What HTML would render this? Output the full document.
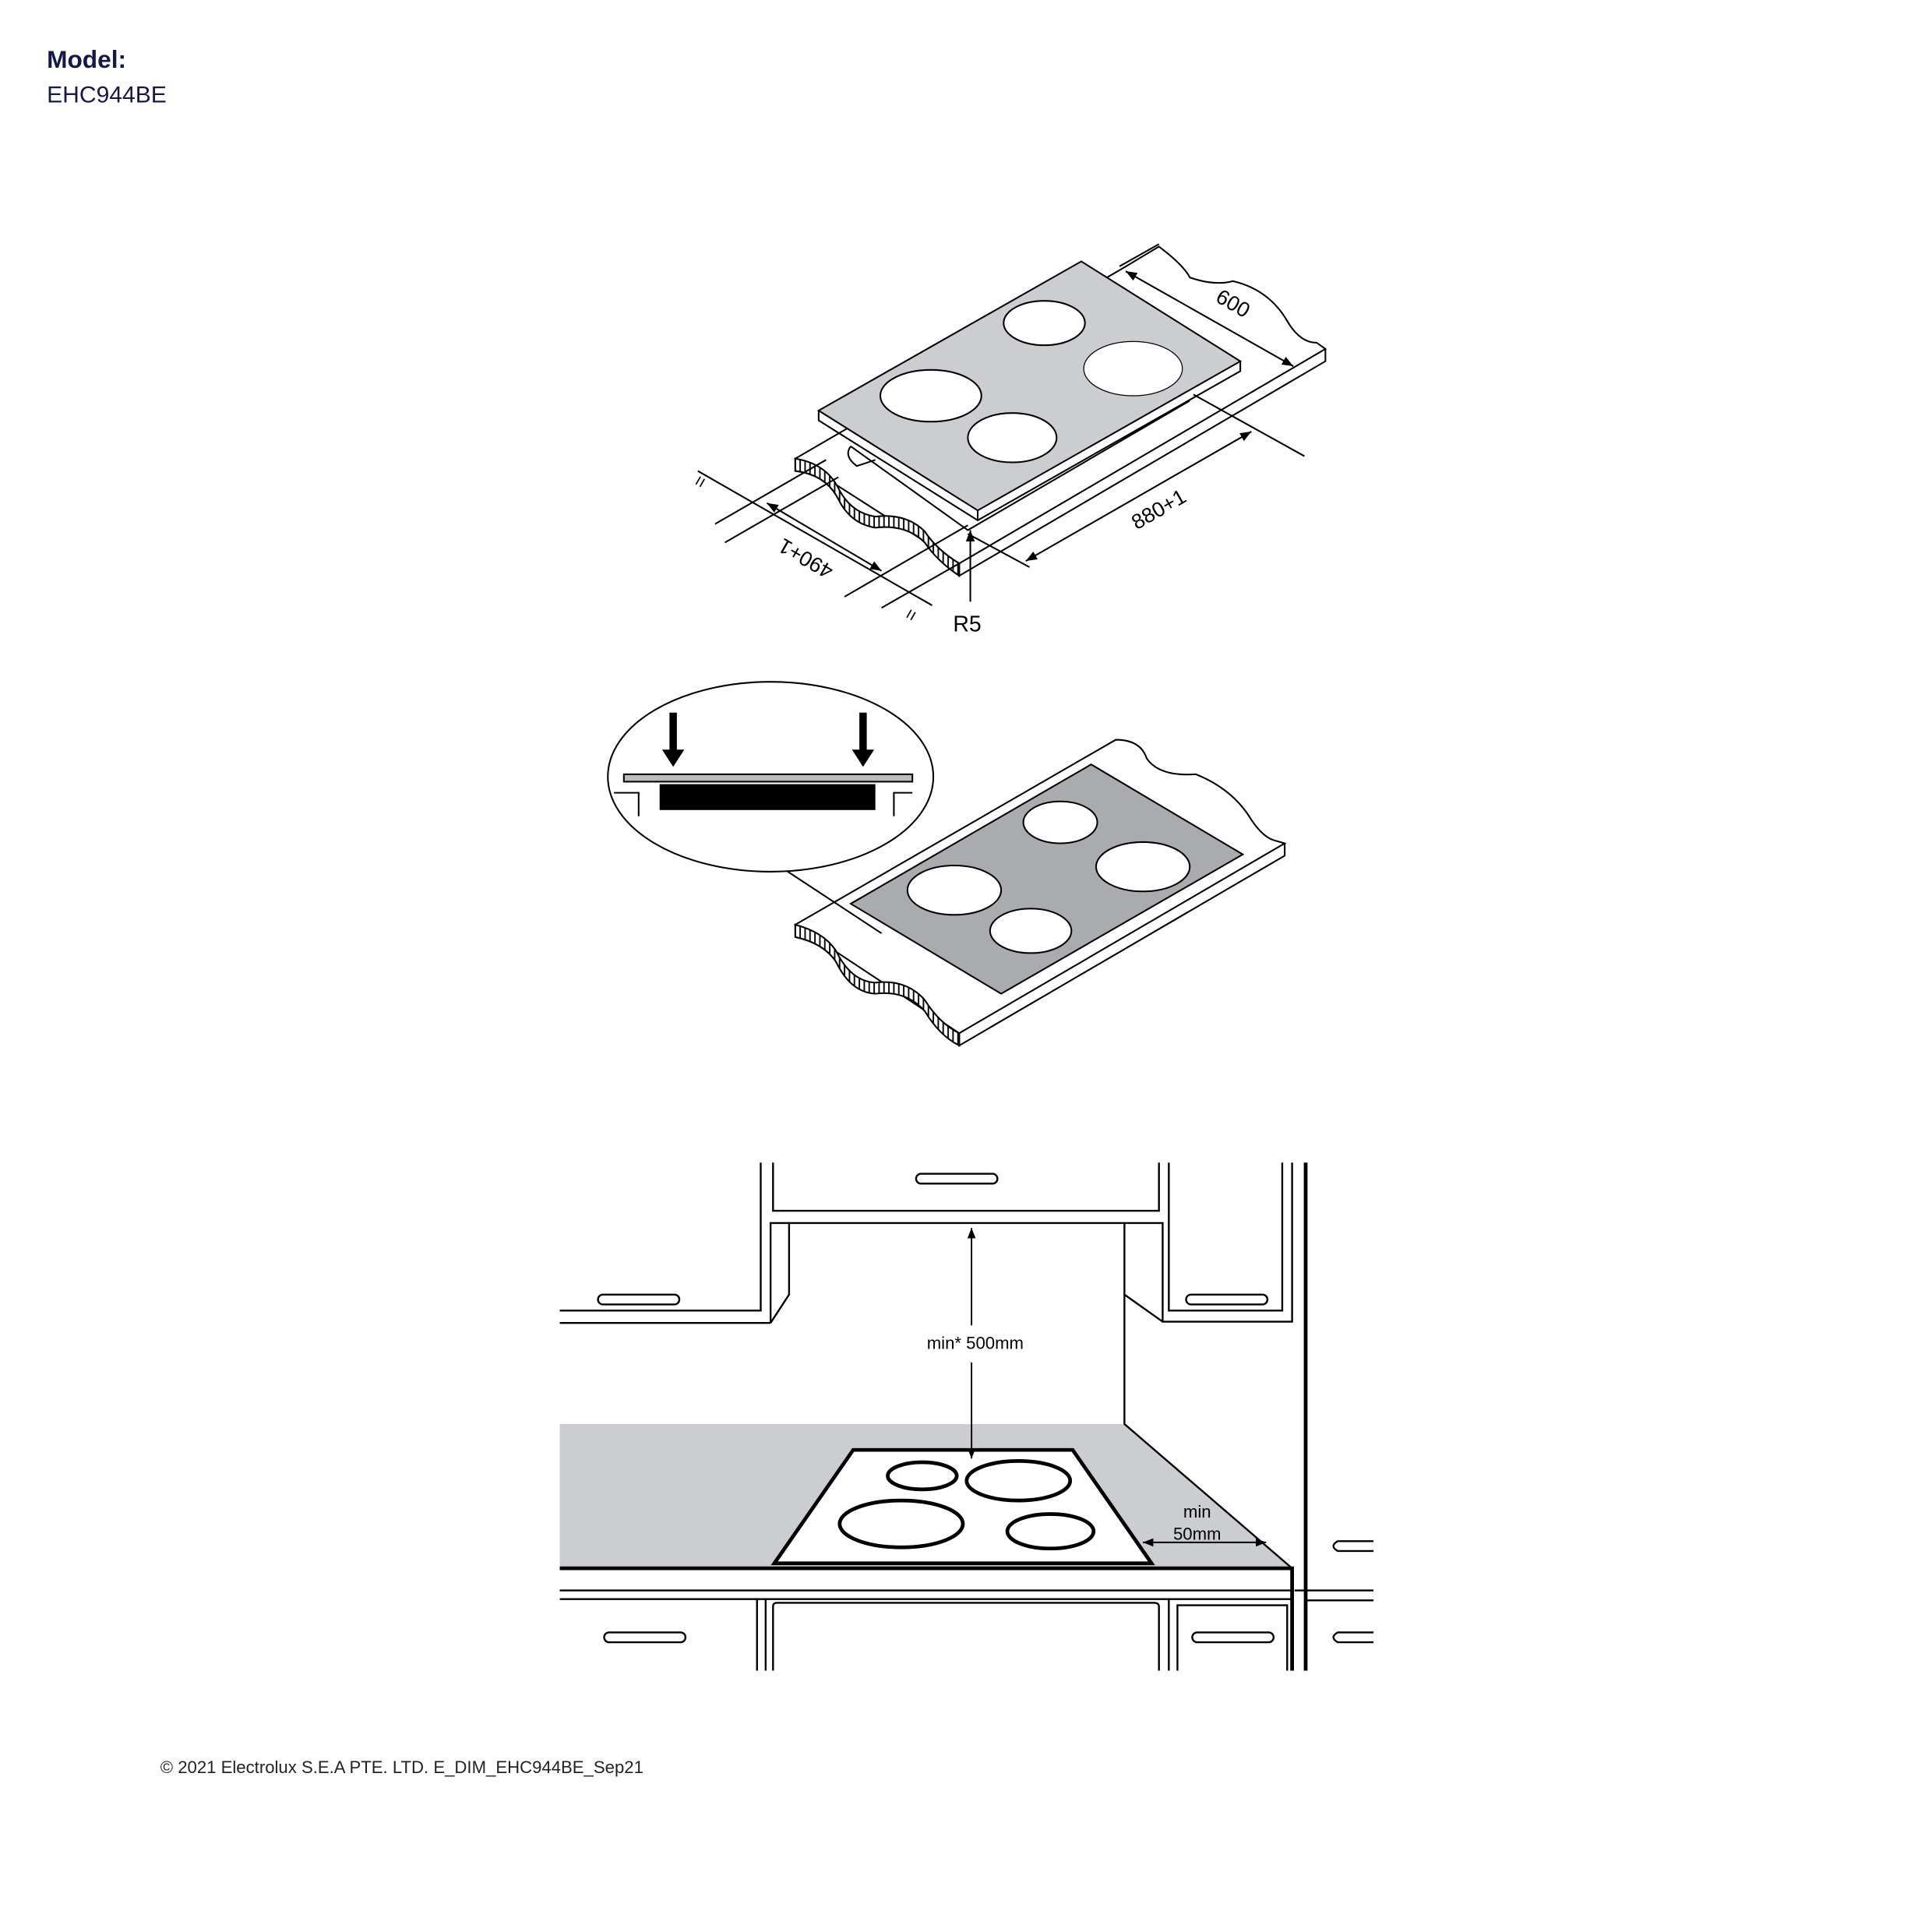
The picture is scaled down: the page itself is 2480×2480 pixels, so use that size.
<!DOCTYPE html>
<html><head><meta charset="utf-8"><style>html,body{margin:0;padding:0;background:#fff}svg{display:block}</style></head>
<body>
<svg width="2480" height="2480" viewBox="0 0 1567 1567" xmlns="http://www.w3.org/2000/svg" font-family="Liberation Sans, sans-serif">
<defs>
<marker id="a" viewBox="0 0 10 10" refX="10" refY="5" markerWidth="7" markerHeight="7" orient="auto-start-reverse"><path d="M0,1 L10,5 L0,9 z" fill="#000"/></marker>
<pattern id="h" width="4" height="4" patternUnits="userSpaceOnUse"><rect width="4" height="4" fill="#fff"/><line x1="1" y1="0" x2="1" y2="4" stroke="#000" stroke-width="1.2"/></pattern>
</defs>
<text x="38" y="55" font-size="20" font-weight="bold" fill="#141a46">Model:</text>
<text x="38" y="83" font-size="19" fill="#141a46">EHC944BE</text>

<g fill="none" stroke="#000" stroke-width="1.3">
<path d="M645,372 L910,218 L940,200 Q960,215 965,225 Q985,232 1000,228 Q1030,235 1045,262 Q1055,278 1068,278 L1075,283 L778,457 Z" fill="#fff"/>
<path d="M1075,283 L1075,293 L778,467 L778,457"/>
<path d="M645,372 L645,382 Q670,385 680,405 Q690,425 710,428 Q735,425 750,440 Q760,455 778,467 L778,457 Q760,446 750,431 Q735,416 710,419 Q690,416 680,396 Q670,376 645,372 Z" fill="url(#h)"/>
<path d="M690,362 L785,430 L965,325"/>
<path d="M690,362 Q684,370 695,378 L710,373"/>
<path d="M664,333 L877,212 L1006,293 L793,414 Z" fill="#cbcdd0"/>
<path d="M664,333 L664,341 L793,422 L1006,301 L1006,293 M793,414 L793,422"/>
<ellipse cx="847" cy="262" rx="33" ry="18" fill="#fff"/>
<ellipse cx="919" cy="299" rx="40" ry="22" fill="#fff" stroke-width="0.8"/>
<ellipse cx="755" cy="321" rx="41" ry="21" fill="#fff"/>
<ellipse cx="821" cy="355" rx="36" ry="20" fill="#fff"/>
<line x1="908" y1="216" x2="940" y2="198"/>
<line x1="913" y1="220" x2="1049" y2="297" marker-start="url(#a)" marker-end="url(#a)"/>
<line x1="968" y1="320" x2="1058" y2="370"/>
<line x1="832" y1="455" x2="1015" y2="350" marker-start="url(#a)" marker-end="url(#a)"/>
<line x1="785" y1="433" x2="835" y2="460"/>
<line x1="566" y1="382" x2="756" y2="491"/>
<line x1="580" y1="425" x2="670" y2="373"/>
<line x1="588" y1="440" x2="680" y2="387"/>
<line x1="685" y1="484" x2="785" y2="426"/>
<line x1="715" y1="493" x2="778" y2="457"/>
<line x1="622" y1="408" x2="715" y2="463" marker-start="url(#a)" marker-end="url(#a)"/>
<line x1="787" y1="488" x2="787" y2="430" marker-end="url(#a)"/>
</g>
<text x="0" y="0" font-size="17" transform="translate(985,244) rotate(30)">600</text>
<text x="0" y="0" font-size="17" transform="translate(922,430) rotate(-30)">880+1</text>
<text x="0" y="0" font-size="17" transform="translate(677,460) rotate(210)">490+1</text>
<text x="0" y="0" font-size="15" transform="translate(570,397) rotate(-60)">=</text>
<text x="0" y="0" font-size="15" transform="translate(741,505) rotate(-60)">=</text>
<text x="773" y="512" font-size="18">R5</text>

<g fill="none" stroke="#000" stroke-width="1.3">
<path d="M645,750 L905,600 Q925,600 930,615 Q940,630 970,628 Q1000,640 1015,665 Q1025,680 1035,682 L1042,684 L778,838 Z" fill="#fff"/>
<path d="M1042,684 L1042,694 L778,848 L778,838"/>
<path d="M645,750 L645,760 Q668,765 678,780 Q690,805 710,806 Q735,803 750,820 Q762,840 778,848 L778,838 Q762,830 750,811 Q735,794 710,797 Q690,796 678,771 Q668,756 645,750 Z" fill="url(#h)"/>
<path d="M690,733 L885,620 L1008,693 L812,806 Z" fill="#aaabae"/>
<ellipse cx="860" cy="667" rx="30" ry="17" fill="#fff"/>
<ellipse cx="927" cy="703" rx="38" ry="20" fill="#fff"/>
<ellipse cx="774" cy="722" rx="38" ry="20" fill="#fff"/>
<ellipse cx="836" cy="755" rx="33" ry="18" fill="#fff"/>
<line x1="636" y1="705" x2="715" y2="757"/>
<ellipse cx="625" cy="630" rx="132" ry="77" fill="#fff"/>
<rect x="506" y="628" width="234" height="6" fill="#bbb"/>
<path d="M498,643 L518,643 L518,662 M740,643 L725,643 L725,662"/>
</g>
<rect x="535" y="636" width="175" height="21" fill="#000"/>
<path d="M543,578 h6 v30 h6 l-9,14 l-9,-14 h6z M697,578 h6 v30 h6 l-9,14 l-9,-14 h6z" fill="#000"/>

<path d="M454,1155 L912,1155 L1048,1272 L454,1272 Z" fill="#cbcdd0"/>
<g fill="none" stroke="#000" stroke-width="1.5">
<path d="M617,943 V1063 H454 M627,943 V982 H940 V943 M625,1073 L640,1050 V992 H943 V1072 H1048 V943 M948,943 V1063 H1040 V943"/>
<path d="M625,1073 H454 M625,1073 V992 H640"/>
<path d="M912,992 V1155 L1048,1272 M912,1050 L943,1072"/>
<path d="M454,1290 H1048 M454,1297 H1048 M1050,1290 H1114 M1060,1298 H1114"/>
<path d="M614,1297 V1355 M621,1297 V1355 M948,1297 V1355 M940,1355 V1303 Q940,1300 936,1300 H630 Q627,1300 627,1303 V1355 M955,1355 V1302 H1044 V1355"/>
<rect x="743" y="952" width="66" height="8" rx="4"/>
<rect x="485" y="1050" width="66" height="8" rx="4"/>
<rect x="962" y="1050" width="66" height="8" rx="4"/>
<rect x="490" y="1324" width="66" height="8" rx="4"/>
<rect x="967" y="1324" width="66" height="8" rx="4"/>
<path d="M1114,1250 H1085 Q1078,1254 1085,1258 H1114 M1114,1324 H1085 Q1078,1328 1085,1332 H1114"/>
</g>
<path d="M454,1272 H1048 V1355" fill="none" stroke="#000" stroke-width="3"/>
<path d="M1059,943 V1355" fill="none" stroke="#000" stroke-width="3"/>
<path d="M692,1176 L870,1176 L934,1268 L628,1268 Z" fill="#fff" stroke="#000" stroke-width="3"/>
<g fill="none" stroke="#000" stroke-width="3">
<ellipse cx="748" cy="1197" rx="28" ry="11"/>
<ellipse cx="826" cy="1201" rx="42" ry="16"/>
<ellipse cx="731" cy="1236" rx="50" ry="19"/>
<ellipse cx="852" cy="1242" rx="35" ry="14"/>
</g>
<g stroke="#000" stroke-width="1.2" fill="none">
<line x1="788" y1="996" x2="788" y2="1075" marker-start="url(#a)"/>
<line x1="788" y1="1105" x2="788" y2="1183" marker-end="url(#a)"/>
<line x1="927" y1="1251" x2="1027" y2="1251" marker-start="url(#a)" marker-end="url(#a)"/>
</g>
<text x="791" y="1094" font-size="14" text-anchor="middle">min* 500mm</text>
<text x="971" y="1231" font-size="14" text-anchor="middle">min</text>
<text x="971" y="1249" font-size="14" text-anchor="middle">50mm</text>

<text x="130" y="1438" font-size="14" fill="#222">© 2021 Electrolux S.E.A PTE. LTD.  E_DIM_EHC944BE_Sep21</text>
</svg>
</body></html>
